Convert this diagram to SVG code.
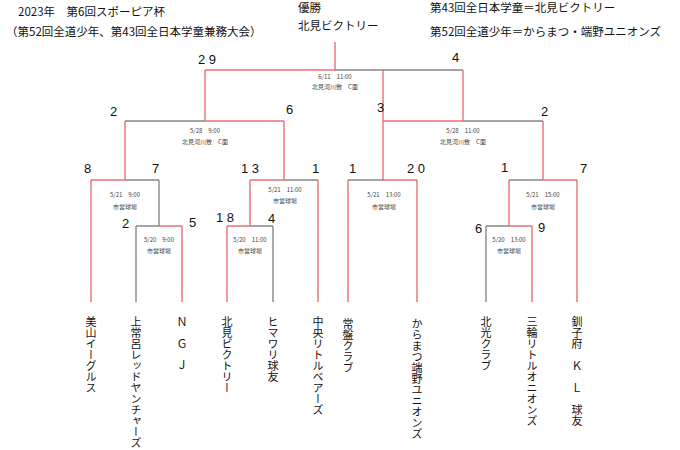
<svg xmlns="http://www.w3.org/2000/svg" width="680" height="450" viewBox="0 0 680 450">
<style>
text{font-family:"Noto Sans CJK JP","Liberation Sans",sans-serif;fill:#111}
.h{font-size:11.5px}
.s{font-size:13px;font-family:"Liberation Sans","Noto Sans CJK JP",sans-serif}
.d{font-size:6px;text-anchor:middle;fill:#444}
.n{font-size:11px;writing-mode:vertical-rl;text-orientation:upright}
.r{stroke:#e8707a;stroke-width:1.4;fill:none}
.g{stroke:#888;stroke-width:1.4;fill:none}
</style>
<rect width="680" height="450" fill="#fff"/>
<g id="header">
<text class="h" x="18" y="16">2023年　第6回スポーピア杯</text>
<text class="h" x="6" y="36">（第52回全道少年、第43回全日本学童兼務大会）</text>
<text class="h" x="298" y="12">優勝</text>
<text class="h" x="298" y="30">北見ビクトリー</text>
<text class="h" x="430" y="12">第43回全日本学童＝北見ビクトリー</text>
<text class="h" x="430" y="36">第52回全道少年＝からまつ・端野ユニオンズ</text>
</g>
<g id="connectors">
<path class="r" d="M335 42V70M205 70H335M205 70V121M205 121H284M284 121V180M125 121V180M383 70V121M383 121H463M463 70V121M383 121V180M543 121V180"/>
<path class="g" d="M335 70H463M125 121H205M463 121H543"/>
<path class="r" d="M91 180H125M91 180V302M182 226V302M159 226H182M250 180H285M250 180V226M227 226H250M227 226V302M318 180V302M384 180H417M417 180V302M348 180V302M543 180H577M577 180V302M509 180V226M509 226H532M532 226V302"/>
<path class="g" d="M125 180H159M159 180V226M136 226H159M136 226V302M285 180H318M250 226H273M273 226V302M348 180H384M509 180H543M486 226H509M486 226V302"/>
</g>
<g id="scores" class="s">
<text x="198" y="64" class="s">2 9</text><text x="452" y="62" class="s">4</text>
<text x="110" y="116" class="s">2</text><text x="286" y="114" class="s">6</text>
<text x="377" y="112" class="s">3</text><text x="541" y="116" class="s">2</text>
<text x="84" y="173" class="s">8</text><text x="152" y="173" class="s">7</text>
<text x="241" y="173" class="s">1 3</text><text x="312" y="173" class="s">1</text>
<text x="349" y="173" class="s">1</text><text x="407" y="173" class="s">2 0</text>
<text x="501" y="172" class="s">1</text><text x="580" y="173" class="s">7</text>
<text x="122" y="228" class="s">2</text><text x="189" y="227" class="s">5</text>
<text x="216" y="222" class="s">1 8</text><text x="268" y="223" class="s">4</text>
<text x="475" y="233" class="s">6</text><text x="538" y="232" class="s">9</text>
</g>
<g id="dates">
<text class="d" x="335" y="79">6/11　11:00</text><text class="d" x="335" y="89">北見河川敷　C面</text>
<text class="d" x="205" y="133">5/28　9:00</text><text class="d" x="205" y="144">北見河川敷　C面</text>
<text class="d" x="463" y="133">5/28　11:00</text><text class="d" x="463" y="144">北見河川敷　C面</text>
<text class="d" x="125" y="197">5/21　9:00</text><text class="d" x="125" y="209">市営球場</text>
<text class="d" x="285" y="192">5/21　11:00</text><text class="d" x="285" y="203">市営球場</text>
<text class="d" x="384" y="197">5/21　13:00</text><text class="d" x="384" y="209">市営球場</text>
<text class="d" x="543" y="197">5/21　15:00</text><text class="d" x="543" y="209">市営球場</text>
<text class="d" x="159" y="242">5/20　9:00</text><text class="d" x="159" y="253">市営球場</text>
<text class="d" x="250" y="242">5/20　11:00</text><text class="d" x="250" y="253">市営球場</text>
<text class="d" x="509" y="242">5/20　13:00</text><text class="d" x="509" y="253">市営球場</text>
</g>
<g id="teams">
<text class="n" x="91" y="316">美山イーグルス</text>
<text class="n" x="136" y="316">上常呂レッドヤンチャーズ</text>
<text class="n" x="182" y="316">Ｎ Ｇ Ｊ</text>
<text class="n" x="227" y="316">北見ビクトリー</text>
<text class="n" x="273" y="316">ヒマワリ球友</text>
<text class="n" x="318" y="316">中央リトルベアーズ</text>
<text class="n" x="348" y="318">常盤クラブ</text>
<text class="n" x="417" y="318">からまつ端野ユニオンズ</text>
<text class="n" x="486" y="316">北光クラブ</text>
<text class="n" x="532" y="316">三輪リトルオニオンズ</text>
<text class="n" x="577" y="316">釧子府　Ｋ Ｌ　球友</text>
</g>
</svg>
